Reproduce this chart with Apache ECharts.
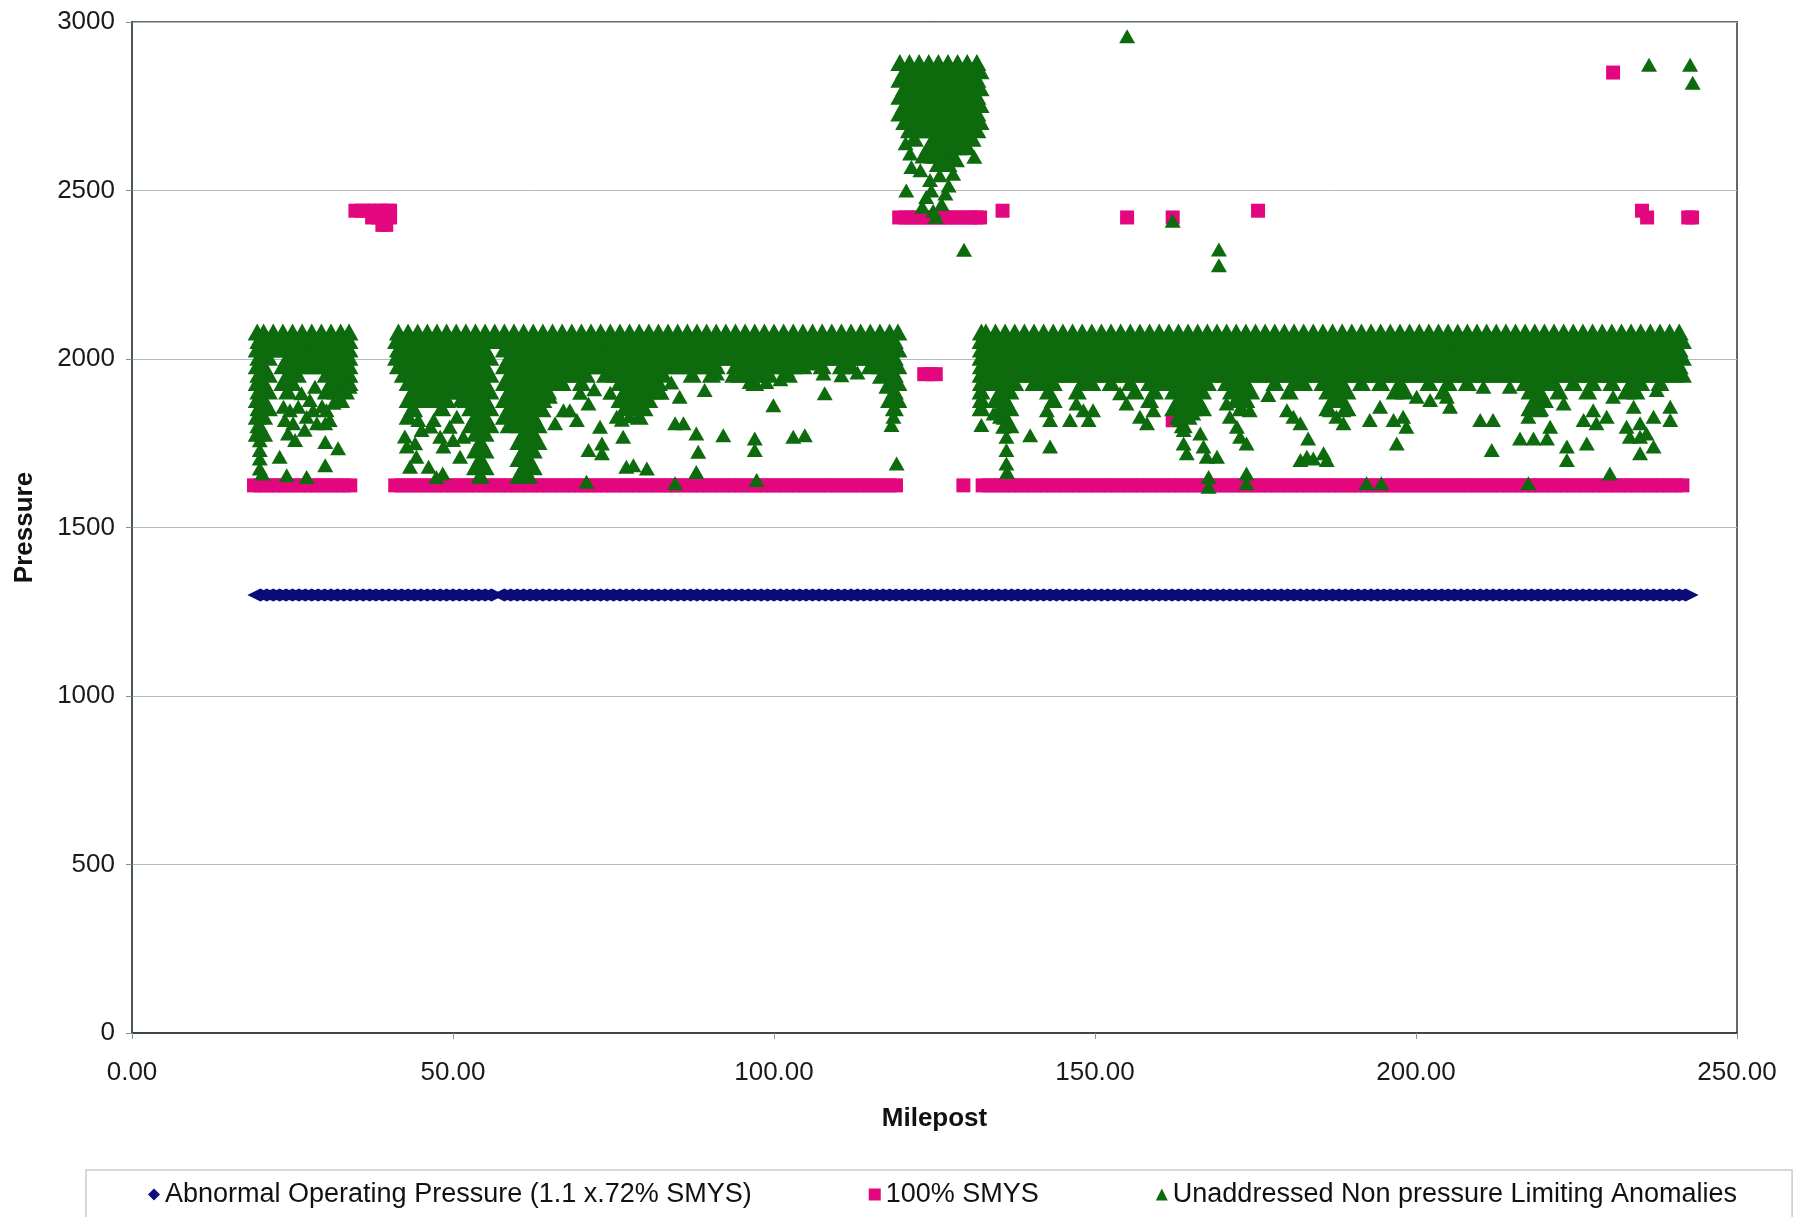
<!DOCTYPE html>
<html>
<head>
<meta charset="utf-8">
<script src="https://cdn.jsdelivr.net/npm/echarts/dist/echarts.min.js"></script>
<style>
html,body{margin:0;padding:0;background:#ffffff;}
#chart{width:1803px;height:1217px;}
</style>
</head>
<body>
<div id="chart"></div>
<script>
// ---------- tick labels ----------
const xTicks = [0, 50, 100, 150, 200, 250];
const yTicks = [0, 500, 1000, 1500, 2000, 2500, 3000];

// ---------- Abnormal Operating Pressure (1.1 x .72% SMYS) ----------
const abnormalPressure = 1300;
const abnormalMiles = [20,21,22,23,24,25,26,27,28,29,30,31,32,33,34,35,36,37,38,39,40,41,42,43,44,45,46,47,48,49,50,51,52,53,54,55,56,58,59,60,61,62,63,64,65,66,67,68,69,70,71,72,73,74,75,76,77,78,79,80,81,82,83,84,85,86,87,88,89,90,91,92,93,94,95,96,97,98,99,100,101,102,103,104,105,106,107,108,109,110,111,112,113,114,115,116,117,118,119,120,121,122,123,124,125,126,127,128,129,130,131,132,133,134,135,136,137,138,139,140,141,142,143,144,145,146,147,148,149,150,151,152,153,154,155,156,157,158,159,160,161,162,163,164,165,166,167,168,169,170,171,172,173,174,175,176,177,178,179,180,181,182,183,184,185,186,187,188,189,190,191,192,193,194,195,196,197,198,199,200,201,202,203,204,205,206,207,208,209,210,211,212,213,214,215,216,217,218,219,220,221,222,223,224,225,226,227,228,229,230,231,232,233,234,235,236,237,238,239,240,241,242];

// ---------- 100% SMYS ----------
const smysBandPressure = 1625;
const smysBandMiles = [19,20,21,22,23,24,25,26,27,28,29,30,31,32,33,34,41,42,43,44,45,46,47,48,49,50,51,52,53,54,55,56,57,58,59,60,61,62,63,64,65,66,67,68,69,70,71,72,73,74,75,76,77,78,79,80,81,82,83,84,85,86,87,88,89,90,91,92,93,94,95,96,97,98,99,100,101,102,103,104,105,106,107,108,109,110,111,112,113,114,115,116,117,118,119,129.5,132.5,133.5,134.5,135.5,136.5,137.5,138.5,139.5,140.5,141.5,142.5,143.5,144.5,145.5,146.5,147.5,148.5,149.5,150.5,151.5,152.5,153.5,154.5,155.5,156.5,157.5,158.5,159.5,160.5,161.5,162.5,163.5,164.5,165.5,166.5,167.5,168.5,169.5,170.5,171.5,172.5,173.5,174.5,175.5,176.5,177.5,178.5,179.5,180.5,181.5,182.5,183.5,184.5,185.5,186.5,187.5,188.5,189.5,190.5,191.5,192.5,193.5,194.5,195.5,196.5,197.5,198.5,199.5,200.5,201.5,202.5,203.5,204.5,205.5,206.5,207.5,208.5,209.5,210.5,211.5,212.5,213.5,214.5,215.5,216.5,217.5,218.5,219.5,220.5,221.5,222.5,223.5,224.5,225.5,226.5,227.5,228.5,229.5,230.5,231.5,232.5,233.5,234.5,235.5,236.5,237.5,238.5,239.5,240.5,241.5];
const smysOther = [[34.8,2440],[35.8,2440],[36.8,2440],[37.8,2440],[38.8,2440],[39.8,2440],[40.2,2440],[37.4,2420],[38.4,2420],[39.4,2420],[40.2,2420],[39.0,2398],[39.6,2398],
[119.5,2420],[120.5,2420],[121.5,2420],[122.5,2420],[123.5,2420],[124.5,2420],[125.5,2420],[126.5,2420],[127.5,2420],[128.5,2420],[129.5,2420],[130.5,2420],[131.5,2420],[132.1,2420],
[123.4,1955],[124.3,1955],[125.2,1955],
[135.6,2440],[155.0,2420],[162.1,2420],[175.4,2440],[230.7,2850],[235.2,2440],[236.0,2420],[242.4,2420],[243.0,2420],
[162.1,1818],[161.3,1973],[169.8,1953]];

// ---------- Unaddressed Non pressure Limiting Anomalies ----------
// dense band, listed by pressure level (mileposts where triangles sit at that level)
const g2080 = [19.5,20.5,22,23.5,25,26.5,28,29.5,31,32.5,33.8,41.5,43,44.5,46,47.5,49,50.5,52,53.5,55,56.5,58,59.5,61,62.5,64,65.5,67,68.5,70,71.5,73,74.5,76,77.5,79,80.5,82,83.5,85,86.5,88,89.5,91,92.5,94,95.5,97,98.5,100,101.5,103,104.5,106,107.5,109,110.5,112,113.5,115,116.5,118,119.3,132.3,133,134.5,136,137.5,139,140.5,142,143.5,145,146.5,148,149.5,151,152.5,154,155.5,157,158.5,160,161.5,163,164.5,166,167.5,169,170.5,172,173.5,175,176.5,178,179.5,181,182.5,184,185.5,187,188.5,190,191.5,193,194.5,196,197.5,199,200.5,202,203.5,205,206.5,208,209.5,211,212.5,214,215.5,217,218.5,220,221.5,223,224.5,226,227.5,229,230.5,232,233.5,235,236.5,238,239.5,241];
const g2055 = [19.75,21.25,22.75,24.25,25.75,27.25,28.75,30.25,31.75,33.25,33.8,41.2,42.25,43.75,45.25,46.75,48.25,49.75,51.25,52.75,54.25,55.75,57.25,58.75,60.25,61.75,63.25,64.75,66.25,67.75,69.25,70.75,72.25,73.75,75.25,76.75,78.25,79.75,81.25,82.75,84.25,85.75,87.25,88.75,90.25,91.75,93.25,94.75,96.25,97.75,99.25,100.75,102.25,103.75,105.25,106.75,108.25,109.75,111.25,112.75,114.25,115.75,117.25,118.75,132.25,133.75,135.25,136.75,138.25,139.75,141.25,142.75,144.25,145.75,147.25,148.75,150.25,151.75,153.25,154.75,156.25,157.75,159.25,160.75,162.25,163.75,165.25,166.75,168.25,169.75,171.25,172.75,174.25,175.75,177.25,178.75,180.25,181.75,183.25,184.75,186.25,187.75,189.25,190.75,192.25,193.75,195.25,196.75,198.25,199.75,201.25,202.75,204.25,205.75,207.25,208.75,210.25,211.75,213.25,214.75,216.25,217.75,219.25,220.75,222.25,223.75,225.25,226.75,228.25,229.75,231.25,232.75,234.25,235.75,237.25,238.75,240.25,241.5];
const g2030 = [19.5,20.5,22,23.5,25,26.5,28,29.5,31,32.5,33.8,41.5,43,44.5,46,47.5,49,50.5,52,53.5,55,58,59.5,61,62.5,64,65.5,67,68.5,70,71.5,73,74.5,76,77.5,79,80.5,82,83.5,85,86.5,88,89.5,91,92.5,94,95.5,97,98.5,100,101.5,103,104.5,106,107.5,109,110.5,112,113.5,115,116.5,118,119.3,132.3,133,134.5,136,137.5,139,140.5,142,143.5,145,146.5,148,149.5,151,152.5,154,155.5,157,158.5,160,161.5,163,164.5,166,167.5,169,170.5,172,173.5,175,176.5,178,179.5,181,182.5,184,185.5,187,188.5,190,191.5,193,194.5,196,197.5,199,200.5,202,203.5,205,206.5,208,209.5,211,212.5,214,215.5,217,218.5,220,221.5,223,224.5,226,227.5,229,230.5,232,233.5,235,236.5,238,239.5,241];
const g2005 = [19.75,21.25,24.25,25.75,27.25,28.75,30.25,31.75,33.25,33.8,41.2,42.25,43.75,45.25,46.75,48.25,49.75,51.25,52.75,54.25,55.75,58.75,60.25,61.75,63.25,64.75,66.25,67.75,69.25,70.75,72.25,73.75,75.25,76.75,78.25,79.75,81.25,82.75,84.25,85.75,87.25,88.75,90.25,91.75,93.25,94.75,96.25,97.75,99.25,100.75,102.25,103.75,105.25,106.75,108.25,109.75,111.25,112.75,114.25,115.75,117.25,118.75,132.25,133.75,135.25,136.75,138.25,139.75,141.25,142.75,144.25,145.75,147.25,148.75,150.25,151.75,153.25,154.75,156.25,157.75,159.25,160.75,162.25,163.75,165.25,166.75,168.25,169.75,171.25,172.75,174.25,175.75,177.25,178.75,180.25,181.75,183.25,184.75,186.25,187.75,189.25,190.75,192.25,193.75,195.25,196.75,198.25,199.75,201.25,202.75,204.25,205.75,207.25,208.75,210.25,211.75,213.25,214.75,216.25,217.75,219.25,220.75,222.25,223.75,225.25,226.75,228.25,229.75,231.25,232.75,234.25,235.75,237.25,238.75,240.25,241.5];
const g1980 = [19.5,20.5,23.5,25,26.5,28,29.5,31,32.5,33.8,41.5,43,44.5,46,47.5,49,50.5,52,53.5,55,58,59.5,61,62.5,64,65.5,67,68.5,70,71.5,73,74.5,76,77.5,79,80.5,82,83.5,85,86.5,88,89.5,91,94,95.5,97,98.5,100,101.5,103,104.5,107.5,110.5,112,115,116.5,118,119.3,132.3,133,134.5,136,137.5,139,140.5,142,143.5,145,146.5,148,149.5,151,152.5,154,155.5,157,158.5,160,161.5,163,164.5,166,167.5,169,170.5,172,173.5,175,176.5,178,179.5,181,182.5,184,185.5,187,188.5,190,191.5,193,194.5,196,197.5,199,200.5,202,203.5,205,206.5,208,209.5,211,212.5,214,215.5,217,218.5,220,221.5,223,224.5,226,227.5,229,230.5,232,233.5,235,236.5,238,239.5,241];
const g1955 = [19.75,21.25,24.25,25.75,30.25,31.75,33.25,33.8,42.25,43.75,45.25,46.75,48.25,49.75,51.25,52.75,54.25,55.75,58.75,60.25,61.75,63.25,64.75,66.25,67.75,69.25,70.75,73.75,75.25,76.75,78.25,79.75,81.25,82.75,87.25,90.25,94.75,96.25,97.75,99.25,102.25,117.25,118.75,132.25,133.75,135.25,136.75,138.25,139.75,141.25,142.75,144.25,145.75,147.25,148.75,150.25,151.75,153.25,154.75,156.25,157.75,159.25,160.75,162.25,163.75,165.25,166.75,168.25,169.75,171.25,172.75,174.25,175.75,177.25,178.75,180.25,181.75,183.25,184.75,186.25,187.75,189.25,190.75,192.25,193.75,195.25,196.75,198.25,199.75,201.25,202.75,204.25,205.75,207.25,208.75,210.25,211.75,213.25,214.75,216.25,217.75,219.25,220.75,222.25,223.75,225.25,226.75,228.25,229.75,231.25,232.75,234.25,235.75,237.25,238.75,240.25,241.5];
const g1930 = [19.5,20.5,23.5,25,31,32.5,33.8,43,44.5,46,47.5,49,50.5,52,53.5,55,58,59.5,61,62.5,64,65.5,67,70,76,77.5,79,80.5,82,97,118,119.3,132.3,133,134.5,136,137.5,140.5,142,143.5,148,149.5,152.5,155.5,158.5,160,161.5,163,164.5,166,167.5,170.5,172,173.5,178,181,182.5,185.5,187,188.5,191.5,194.5,197.5,202,205,208,217,218.5,220,221.5,224.5,227.5,230.5,233.5,235,238];
const g1905 = [19.75,21.25,24.25,30.25,31.75,33.25,43.75,45.25,46.75,48.25,49.75,51.25,52.75,54.25,55.75,58.75,60.25,61.75,63.25,64.75,76.75,78.25,79.75,81.25,118.75,132.25,135.25,136.75,142.75,147.25,156.25,159.25,162.25,163.75,165.25,166.75,171.25,172.75,174.25,180.25,186.25,187.75,189.25,196.75,198.25,204.25,217.75,219.25,222.25,226.75,232.75,234.25];
const g1880 = [19.5,20.5,32.5,43,44.5,46,47.5,49,52,53.5,55,58,59.5,61,62.5,64,76,77.5,79,80.5,118,119.3,132.3,134.5,136,143.5,158.5,163,164.5,166,172,173.5,187,188.5,218.5,220];
const g1855 = [19.75,21.25,43.75,48.25,52.75,54.25,55.75,58.75,60.25,61.75,63.25,76.75,78.25,79.75,118.75,132.25,135.25,136.75,162.25,163.75,165.25,166.75,172.75,186.25,189.25,217.75,219.25];
const g1830 = [19.5,20.5,43,53.5,55,58,59.5,61,62.5,79,136,163,164.5];
const g1805 = [19.75,52.75,54.25,55.75,58.75,60.25,61.75,63.25,136.75,163.75];
const g1780 = [19.5,20.5,53.5,55,61,62.5];
const g1755 = [54.25,60.25,61.75,63.25];
const g1730 = [53.5,55,61,62.5];
const g1705 = [54.25,60.25,61.75];
const g1680 = [53.5,55,61,62.5];
const g1655 = [54.25,60.25,61.75];

// tower between mileposts 119 and 133
const t2880 = [119.6,121.1,122.6,124.1,125.6,127.1,128.6,130.1,131.6];
const t2855 = [120.35,121.85,123.35,124.85,126.35,127.85,129.35,130.85,132.1];
const t2830 = [119.6,121.1,122.6,124.1,125.6,127.1,128.6,130.1,131.6];
const t2805 = [120.35,121.85,123.35,124.85,126.35,127.85,129.35,130.85,132.1];
const t2780 = [119.6,121.1,122.6,124.1,125.6,127.1,128.6,130.1,131.6];
const t2755 = [120.35,121.85,123.35,124.85,126.35,127.85,129.35,130.85,132.1];
const t2730 = [119.6,121.1,122.6,124.1,125.6,127.1,128.6,130.1,131.6];
const t2705 = [120.35,121.85,123.35,124.85,126.35,127.85,129.35,130.85,132.1];
const t2680 = [121.1,122.6,124.1,125.6,127.1,128.6,130.1,131.6];
const t2655 = [121.85,124.85,126.35,127.85,129.35,130.85];
const t2630 = [124.1,125.6,127.1,128.6,130.1];
const t2605 = [123.35,124.85,126.35,127.85];
const t2580 = [125.6,127.1];

const greenRows = [
  [2080,g2080],[2055,g2055],[2030,g2030],[2005,g2005],[1980,g1980],[1955,g1955],
  [1930,g1930],[1905,g1905],[1880,g1880],[1855,g1855],[1830,g1830],[1805,g1805],
  [1780,g1780],[1755,g1755],[1730,g1730],[1705,g1705],[1680,g1680],[1655,g1655],
  [2880,t2880],[2855,t2855],[2830,t2830],[2805,t2805],[2780,t2780],[2755,t2755],
  [2730,t2730],[2705,t2705],[2680,t2680],[2655,t2655],[2630,t2630],[2605,t2605],[2580,t2580]
];

// individual anomalies below the dense band / outliers
const gScatter = [
[19.9,1759],[19.9,1730],[19.9,1705],[19.9,1675],[20.3,1660],[23.0,1710],[24.1,1655],[27.2,1650],[30.1,1685],[30.1,1754],[32.1,1735],[30.8,1819],[23.6,1858],[24.6,1848],[23.8,1819],[25.1,1809],[24.3,1779],[26.4,1898],[25.9,1858],[27.7,1878],[28.2,1848],[27.2,1829],[28.8,1809],[28.5,1918],[30.1,1809],[30.3,1848],[33.2,1908],[33.9,1918],[25.4,1760],[26.9,1790],[29.6,1860],[31.4,1870],
[44.1,1848],[44.6,1819],[45.1,1789],[44.1,1750],[44.3,1710],[43.3,1680],[42.5,1770],[42.8,1740],[46.2,1680],[47.4,1650],[47.0,1819],[48.0,1769],[48.5,1740],[49.5,1799],[51.1,1710],[51.1,1878],[50.6,1829],[51.6,1769],[48.4,1660],[46.5,1800],[50.0,1760],
[64.1,1848],[65.1,1888],[65.9,1809],[67.2,1848],[68.2,1848],[69.3,1819],[71.1,1868],[72.9,1799],[73.2,1749],[73.2,1720],[71.1,1730],[70.8,1636],[75.5,1829],[77.0,1680],[76.5,1769],[69.8,1900],[72.0,1910],[74.5,1900],
[78.1,1685],[80.2,1675],[84.6,1631],[84.6,1809],[85.9,1809],[85.3,1888],[87.9,1779],[88.2,1725],[87.9,1665],[89.2,1908],[92.1,1774],[91.1,1957],[96.2,1932],[97.0,1764],[97.0,1730],[97.3,1641],[98.8,1932],[99.9,1863],[103.0,1769],[104.8,1774],[106.1,1987],[107.7,1957],[107.9,1898],[110.5,1952],[118.6,1829],[118.3,1804],[119.1,1690],[76.3,1820],[77.5,1830],[102.0,1967],[115.5,1987],[116.5,1947],[117.5,1918],[82.5,1900],[84.0,1930],[93.5,1950],[101.0,1940],[113.0,1960],
[132.3,1804],[136.2,1769],[136.2,1730],[136.2,1690],[136.3,1665],[135.2,1829],[135.7,1799],[134.2,1838],[139.9,1774],[143.0,1740],[143.0,1819],[142.5,1848],[146.1,1819],[148.2,1848],[149.7,1848],[149.0,1819],[147.1,1868],[153.9,1898],[157.0,1829],[158.1,1809],[159.1,1848],[154.9,1868],[163.8,1789],[163.8,1749],[164.3,1720],[163.2,1819],[166.4,1779],[166.9,1740],[167.4,1710],[167.7,1650],[167.7,1621],[169.0,1710],[165.3,1838],[171.0,1829],[172.1,1799],[172.6,1769],[173.6,1749],[174.1,1848],[170.5,1868],[173.1,1888],[173.6,1660],[173.6,1631],[177.0,1893],[179.9,1848],[180.9,1829],[182.0,1809],[183.2,1764],[182.0,1700],[183.0,1710],[184.0,1705],[185.6,1720],[186.1,1700],[186.6,1848],[187.6,1829],[188.7,1848],[188.7,1809],
[192.8,1819],[192.3,1631],[194.6,1631],[197.0,1749],[196.5,1819],[198.0,1829],[198.5,1799],[194.4,1858],[200.1,1888],[202.2,1878],[204.8,1888],[205.3,1858],[210.0,1819],[212.0,1819],[211.8,1730],[214.6,1918],[210.5,1918],[216.2,1764],[218.3,1764],[220.4,1764],[217.5,1829],[219.3,1848],[217.5,1631],[220.9,1799],[223.0,1868],[223.5,1740],[223.5,1700],[226.6,1749],[226.1,1819],[228.1,1809],[229.7,1829],[227.6,1848],[230.2,1660],[230.7,1888],[233.9,1858],[234.9,1809],[234.9,1769],[234.9,1720],[233.3,1769],[237.0,1740],[237.5,1908],[239.6,1858],[239.6,1819],[237.0,1829],[235.9,1779],[232.8,1799],
[121.4,2570],[120.6,2500],[120.5,2640],[121.2,2610],[124.3,2531],[123.7,2481],[123.1,2452],[125.2,2422],[126.7,2491],[127.9,2550],[128.5,2590],[129.7,2630],[131.2,2600],[125.8,2545],[126.1,2460],[124.8,2440],[127.2,2515],[122.8,2560],[125.0,2600],[124.5,2500],
[155.0,2958],[236.3,2873],[242.7,2873],[243.1,2820],[129.6,2324],[162.1,2410],[169.3,2325],[169.3,2278]
];

// ---------- build series data from the arrays ----------
const abnormalData = abnormalMiles.map(m => [m, abnormalPressure]);
const smysData = smysBandMiles.map(m => [m, smysBandPressure]).concat(smysOther);
const greenData = [];
// points inside the dense clusters overlap heavily, drawn a little larger so the cluster reads solid
greenRows.forEach(([p, miles]) => miles.forEach(m => greenData.push({value: [m, p], symbolSize: [19, 17]})));
gScatter.forEach(pt => greenData.push(pt));

const FONT = '"Liberation Sans", Arial, Helvetica, sans-serif';
const chart = echarts.init(document.getElementById('chart'), null, {renderer: 'canvas'});
chart.setOption({
  animation: false,
  backgroundColor: '#ffffff',
  textStyle: {fontFamily: FONT},
  grid: {left: 132, right: 66, top: 22, bottom: 184, show: true, borderColor: '#5d6b62', borderWidth: 2, backgroundColor: 'transparent'},
  xAxis: {
    type: 'value', min: xTicks[0], max: xTicks[xTicks.length - 1], interval: 50,
    name: 'Milepost', nameLocation: 'middle', nameGap: 73,
    nameTextStyle: {fontFamily: FONT, fontSize: 26, fontWeight: 'bold', color: '#111'},
    axisLine: {show: true, lineStyle: {color: '#3c4650', width: 2}},
    axisTick: {show: true, length: 6, lineStyle: {color: '#8a9090', width: 1}},
    axisLabel: {margin: 27, fontSize: 26, fontFamily: FONT, color: '#1a1a1a', formatter: v => v.toFixed(2)},
    splitLine: {show: false}
  },
  yAxis: {
    type: 'value', min: yTicks[0], max: yTicks[yTicks.length - 1], interval: 500,
    name: 'Pressure', nameLocation: 'middle', nameGap: 94,
    nameTextStyle: {fontFamily: FONT, fontSize: 26, fontWeight: 'bold', color: '#111'},
    axisLine: {show: true, lineStyle: {color: '#4a5a50', width: 2}},
    axisTick: {show: true, length: 6, lineStyle: {color: '#8a9090', width: 1}},
    axisLabel: {margin: 17, fontSize: 26, fontFamily: FONT, color: '#1a1a1a', formatter: v => String(v)},
    splitLine: {show: true, lineStyle: {color: '#b4b8c6', width: 1}}
  },
  legend: {
    left: 86, top: 1170, orient: 'horizontal',
    padding: [11, 55, 40, 62], itemGap: 117, itemWidth: 12, itemHeight: 12, itemTextGap: 14,
    borderColor: '#c9cbd3', borderWidth: 1.5,
    textStyle: {fontSize: 27, fontFamily: FONT, color: '#111'},
    data: ['Abnormal Operating Pressure (1.1 x.72% SMYS)', '100% SMYS', 'Unaddressed Non pressure Limiting Anomalies']
  },
  series: [
    {name: 'Abnormal Operating Pressure (1.1 x.72% SMYS)', type: 'scatter', symbol: 'diamond', symbolSize: [26, 13],
     itemStyle: {color: '#0b0b7a', opacity: 1}, data: abnormalData, silent: true, z: 2},
    {name: '100% SMYS', type: 'scatter', symbol: 'rect', symbolSize: 14,
     itemStyle: {color: '#e3077f', opacity: 1}, data: smysData, silent: true, z: 3},
    {name: 'Unaddressed Non pressure Limiting Anomalies', type: 'scatter', symbol: 'triangle', symbolSize: [16, 14],
     itemStyle: {color: '#0d6b0d', opacity: 1}, data: greenData, silent: true, z: 4}
  ]
});
</script>
</body>
</html>
